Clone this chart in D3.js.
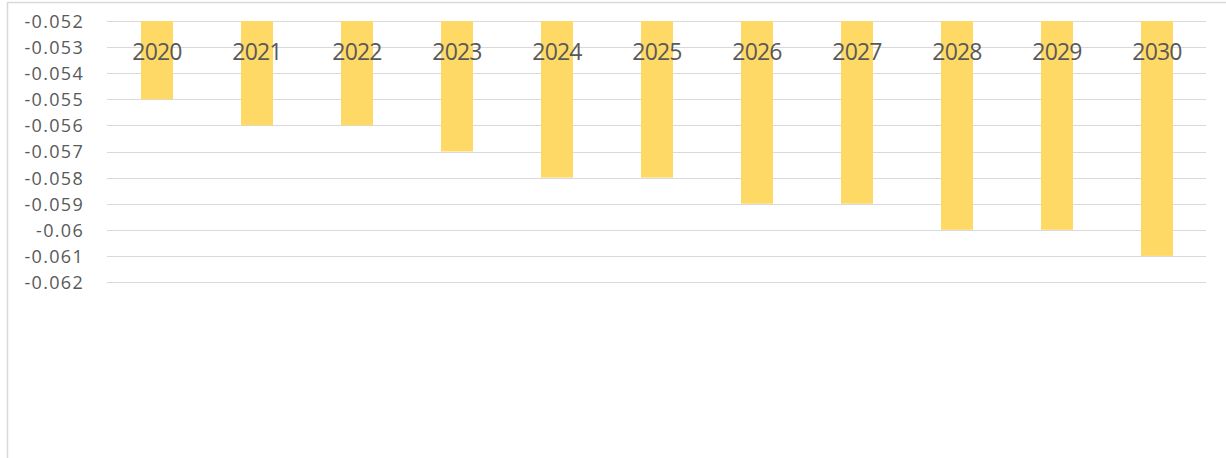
<!DOCTYPE html>
<html>
<head>
<meta charset="utf-8">
<script src="https://cdn.jsdelivr.net/npm/d3@7"></script>
<style>
  html, body { margin: 0; padding: 0; background: #ffffff; }
  svg { display: block; }
</style>
</head>
<body>
<script>
const categories = ["2020", "2021", "2022", "2023", "2024", "2025", "2026", "2027", "2028", "2029", "2030"];
const values = [-0.055, -0.056, -0.056, -0.057, -0.058, -0.058, -0.059, -0.059, -0.060, -0.060, -0.061];
const tickValues = [-0.052, -0.053, -0.054, -0.055, -0.056, -0.057, -0.058, -0.059, -0.060, -0.061, -0.062];
const tickLabels = ["-0.052", "-0.053", "-0.054", "-0.055", "-0.056", "-0.057", "-0.058", "-0.059", "-0.06", "-0.061", "-0.062"];

const W = 1226, H = 458;
const svg = d3.select("body").append("svg").attr("width", W).attr("height", H);

// chart area border (top and left edges visible)
svg.append("path")
  .attr("d", `M7.5,${H} L7.5,2.5 L${W},2.5`)
  .attr("fill", "none")
  .attr("stroke", "#D9D9D9")
  .attr("stroke-width", 1.5);

const x = d3.scaleBand().domain(categories).range([107, 1207]).paddingInner(0.68).paddingOuter(0.34);
const y = d3.scaleLinear().domain([-0.052, -0.062]).range([21, 282]);

// gridlines
svg.append("g").selectAll("line").data(tickValues).join("line")
  .attr("x1", 107).attr("x2", 1206)
  .attr("y1", d => Math.round(y(d)) + 0.5)
  .attr("y2", d => Math.round(y(d)) + 0.5)
  .attr("stroke", "#D9D9D9").attr("stroke-width", 1.2);

// y axis labels
const yAxis = d3.axisLeft(y).tickValues(tickValues).tickSize(0).tickPadding(0)
  .tickFormat((d, i) => tickLabels[i]);
const yg = svg.append("g").attr("transform", "translate(84,0)").call(yAxis);
yg.select(".domain").remove();
yg.selectAll("text")
  .attr("font-family", "'Open Sans', sans-serif")
  .attr("font-size", 18)
  .attr("letter-spacing", "1.3px")
  .attr("fill", "#595959")
  .attr("dy", "0.36em");

// bars
svg.append("g").selectAll("rect").data(values).join("rect")
  .attr("x", (d, i) => x(categories[i]))
  .attr("width", x.bandwidth())
  .attr("y", y(-0.052))
  .attr("height", d => y(d) - y(-0.052))
  .attr("fill", "#FFD966");

// category labels (axis at value -0.052 with labels drawn just below the top)
const xAxis = d3.axisBottom(x).tickSize(0).tickPadding(0);
const xg = svg.append("g").attr("transform", "translate(0,43)").call(xAxis);
xg.select(".domain").remove();
xg.selectAll("text")
  .attr("font-family", "'Open Sans', sans-serif")
  .attr("font-size", 23)
  .attr("letter-spacing", "-0.8px")
  .attr("fill", "#595959")
  .attr("dy", "0.72em");
</script>
</body>
</html>
